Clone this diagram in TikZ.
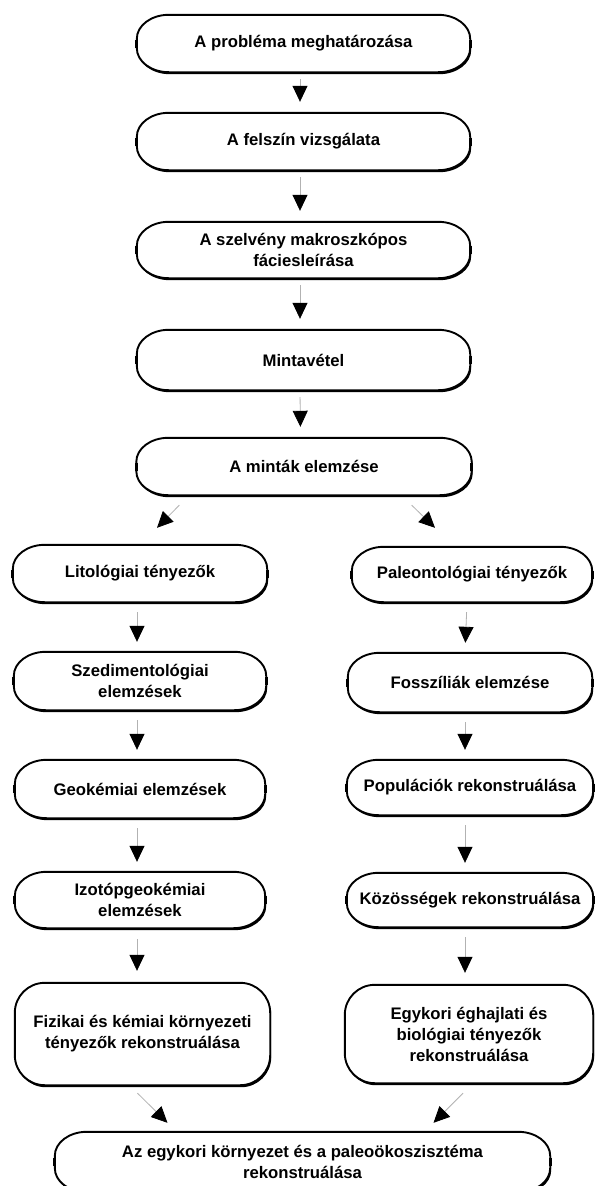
\documentclass[tikz,border=0pt]{standalone}
\usepackage{fontspec}
\setmainfont{Liberation Sans}
\usetikzlibrary{arrows.meta,backgrounds}
\newcommand\boxpath[3]{%
  ([xshift=#2]#1.north west) -- ([xshift=-#2]#1.north east)
  arc[start angle=90,end angle=0,x radius=#2,y radius=#3]
  -- ([yshift=#3]#1.south east)
  arc[start angle=0,end angle=-90,x radius=#2,y radius=#3]
  -- ([xshift=#2]#1.south west)
  arc[start angle=-90,end angle=-180,x radius=#2,y radius=#3]
  -- ([yshift=-#3]#1.north west)
  arc[start angle=180,end angle=90,x radius=#2,y radius=#3] -- cycle}
\newcommand\drawbox[3]{%
  \fill[black, transform canvas={shift={(1pt,-2pt)}}] \boxpath{#1}{#2}{#3};
  \draw[boxline] \boxpath{#1}{#2}{#3};}
\begin{document}
\begin{tikzpicture}[x=1pt,y=-1pt,
  box/.style={align=center, inner sep=0pt, font=\fontsize{16.7}{21}\selectfont\bfseries},
  boxline/.style={draw=black, line width=1.9pt, fill=white},
  arr/.style={draw=gray!60, line width=0.8pt,
    -{Triangle[width=15pt,length=16pt,color=black]}},
  sidetick/.style={line width=3pt, black}
]
\useasboundingbox (0,0) rectangle (595,1186);

% main column
\node[box, minimum width=333pt, minimum height=57pt] (b1) at (303.5,43.5) {A probléma meghatározása};
\node[box, minimum width=333pt, minimum height=57pt] (b2) at (303.5,141.5) {A felszín vizsgálata};
\node[box, minimum width=333pt, minimum height=56pt] (b3) at (303.5,250) {A szelvény makroszkópos\\fáciesleírása};
\node[box, minimum width=333pt, minimum height=60pt] (b4) at (303.5,360) {Mintavétel};
\node[box, minimum width=335pt, minimum height=57pt] (b5) at (304,466.5) {A minták elemzése};

% left column
\node[box, minimum width=254pt, minimum height=57pt] (lit) at (140,573.5) {Litológiai tényezők};
\node[box, minimum width=252pt, minimum height=58pt] (szed) at (140,681) {Szedimentológiai\\elemzések};
\node[box, minimum width=250pt, minimum height=58pt] (geo) at (140,789) {Geokémiai elemzések};
\node[box, minimum width=250pt, minimum height=56pt] (izo) at (140,900) {Izotópgeokémiai\\elemzések};
\node[box, minimum width=255pt, minimum height=102pt] (fiz) at (142.5,1034) {Fizikai és kémiai környezeti\\tényezők rekonstruálása};

% right column
\node[box, minimum width=240pt, minimum height=55pt] (pal) at (472,574.5) {Paleontológiai tényezők};
\node[box, minimum width=244pt, minimum height=59pt] (fos) at (470,682.5) {Fosszíliák elemzése};
\node[box, minimum width=246pt, minimum height=55pt] (pop) at (470,787.5) {Populációk rekonstruálása};
\node[box, minimum width=246pt, minimum height=54pt] (koz) at (470,900) {Közösségek rekonstruálása};
\node[box, minimum width=248pt, minimum height=98pt] (egy) at (469,1034) {Egykori éghajlati és\\biológiai tényezők\\rekonstruálása};

% final
\node[box, minimum width=495pt, minimum height=60pt] (fin) at (302.5,1162) {Az egykori környezet és a paleoökoszisztéma\\rekonstruálása};

\begin{scope}[on background layer]
\fill[white] (0,0) rectangle (595,1186);
\foreach \n in {b1,b2,b3,b4,b5,lit,szed,geo,izo,pal,fos,pop,koz,fin}{
  \drawbox{\n}{32pt}{24pt}
}
\drawbox{fiz}{30pt}{30pt}
\drawbox{egy}{30pt}{30pt}
\end{scope}

% side ticks
\foreach \n in {b1,b2,b3,b4,b5,lit,szed,geo,izo,pal,fos,pop,koz,fin}{
  \draw[sidetick] ([yshift=-4pt]\n.west) -- ([yshift=4pt]\n.west);
  \draw[sidetick] ([yshift=-4pt]\n.east) -- ([yshift=4pt]\n.east);
}

% arrows main column
\foreach \a/\b in {b1/b2,b2/b3,b3/b4,b4/b5}{
  \draw[arr, shorten <=7pt, shorten >=11pt] ([xshift=-3.5pt]\a.south) -- ([xshift=-3.5pt]\b.north);
}
% left column
\foreach \a/\b in {lit/szed,szed/geo,geo/izo}{
  \draw[arr, shorten <=10pt, shorten >=10pt] ([xshift=-3pt]\a.south) -- ([xshift=-3pt]\b.north);
}
\draw[arr, shorten <=11pt, shorten >=12pt] ([xshift=-3pt]izo.south) -- ([xshift=-5.5pt]fiz.north);
% right column
\foreach \a/\b in {pal/fos,fos/pop,pop/koz}{
  \draw[arr, shorten <=10pt, shorten >=10pt] ([xshift=-5pt]\a.south) -- ([xshift=-5pt]\b.north);
}
\draw[arr, shorten <=10pt, shorten >=12pt] ([xshift=-5pt]koz.south) -- ([xshift=-4pt]egy.north);

% diagonal arrows
\draw[arr] ([shift={(43,10)}]b5.south west) -- ([shift={(17,-17)}]lit.north);
\draw[arr] ([shift={(-60,10)}]b5.south east) -- ([shift={(-37,-19)}]pal.north);
\draw[arr] ([shift={(-5,8)}]fiz.south) -- ([shift={(-135,-9)}]fin.north);
\draw[arr] ([shift={(-6,10)}]egy.south) -- ([shift={(131,-9)}]fin.north);
\end{tikzpicture}
\end{document}
